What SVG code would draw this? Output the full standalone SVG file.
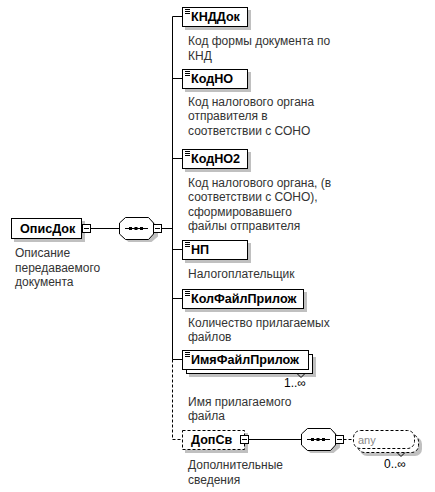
<svg xmlns="http://www.w3.org/2000/svg" width="435" height="492" viewBox="0 0 435 492">
<defs>
<style>
.box{fill:#fff;stroke:#000;stroke-width:1}
.dbox{fill:#fff;stroke:#000;stroke-width:1;stroke-dasharray:3,2}
.sh{fill:#c0c0c0;stroke:none}
.name{font-family:"Liberation Sans",Arial,sans-serif;font-size:12.6px;font-weight:bold;fill:#000}
.desc{font-family:"Liberation Sans",Arial,sans-serif;font-size:12px;fill:#333}
.occ{font-family:"Liberation Sans",Arial,sans-serif;font-size:12px;fill:#000}
.any{font-family:"Liberation Sans",Arial,sans-serif;font-size:11px;fill:#888}
.ln{stroke:#000;stroke-width:1;fill:none}
.dln{stroke:#000;stroke-width:1;fill:none;stroke-dasharray:3,2}
</style>
<g id="icon"><path class="ln" d="M185,242.5h5M185,244.5h5M185,246.5h5"/></g>
<g id="minus"><rect class="box" x="0.5" y="0.5" width="8" height="8"/><path class="ln" d="M2,4.5h5"/></g>
<g id="oct">
<path class="sh" d="M9.5,3H32.5L39,9.5V19.5L32.5,25H9.5L3,19.5V9.5Z"/>
<path class="box" d="M6.5,0.5H29.5L34.5,6V17L29.5,22.5H6.5L0.5,17V6Z"/>
<path class="ln" d="M6,11.5H29"/>
<rect x="10" y="10" width="3" height="3" fill="#000"/>
<rect x="15.5" y="10" width="3" height="3" fill="#000"/>
<rect x="21" y="10" width="3" height="3" fill="#000"/>
</g>
</defs>

<g id="connectors">
<path class="ln" d="M90.5,228.5H120"/>
<path class="ln" d="M161.5,228.5H172.5"/>
<path class="ln" d="M172.5,16.5V359.5"/>
<path class="dln" d="M172.5,359.5V439.5H182"/>
<path class="ln" d="M172.5,16.5H182M172.5,78.5H182M172.5,158.5H182M172.5,249.5H182M172.5,298.5H182M172.5,359.5H182"/>
<path class="ln" d="M248.5,439.5H301"/>
<path class="dln" d="M343.5,439.5H353"/>
</g>

<g id="ОписДок">
<rect class="sh" x="14" y="221" width="71" height="21"/>
<rect class="box" x="11.5" y="218.5" width="70" height="20"/>
<text class="name" x="20" y="233">ОписДок</text>
<use href="#minus" x="82" y="224"/>
<text class="desc"><tspan x="15" y="257">Описание</tspan><tspan x="15" y="271.5">передаваемого</tspan><tspan x="15" y="286">документа</tspan></text>
</g>

<g id="seq1"><use href="#oct" x="119" y="217"/><use href="#minus" x="153" y="224"/></g>

<g id="КНДДок">
<rect class="sh" x="185" y="10" width="66" height="20"/>
<rect class="box" x="182.5" y="7.5" width="65" height="19"/>
<use href="#icon" y="-233"/>
<text class="name" x="191" y="21">КНДДок</text>
<text class="desc"><tspan x="188" y="45">Код формы документа по</tspan><tspan x="188" y="59.5">КНД</tspan></text>
</g>

<g id="КодНО">
<rect class="sh" x="185" y="72" width="66" height="20"/>
<rect class="box" x="182.5" y="69.5" width="65" height="19"/>
<use href="#icon" y="-171"/>
<text class="name" x="191" y="83">КодНО</text>
<text class="desc"><tspan x="188" y="105.5">Код налогового органа</tspan><tspan x="188" y="120">отправителя в</tspan><tspan x="188" y="134.5">соответствии с СОНО</tspan></text>
</g>

<g id="КодНО2">
<rect class="sh" x="185" y="152" width="66" height="20"/>
<rect class="box" x="182.5" y="149.5" width="65" height="19"/>
<use href="#icon" y="-91"/>
<text class="name" x="191" y="163">КодНО2</text>
<text class="desc"><tspan x="188" y="186.5">Код налогового органа, (в</tspan><tspan x="188" y="201">соответствии с СОНО),</tspan><tspan x="188" y="215.5">сформировавшего</tspan><tspan x="188" y="230">файлы отправителя</tspan></text>
</g>

<g id="НП">
<rect class="sh" x="185" y="243" width="66" height="20"/>
<rect class="box" x="182.5" y="240.5" width="65" height="19"/>
<use href="#icon" y="0"/>
<text class="name" x="191" y="254">НП</text>
<text class="desc"><tspan x="188" y="278">Налогоплательщик</tspan></text>
</g>

<g id="КолФайлПрилож">
<rect class="sh" x="185" y="292" width="122" height="20"/>
<rect class="box" x="182.5" y="289.5" width="121" height="19"/>
<use href="#icon" y="49"/>
<text class="name" x="191" y="303">КолФайлПрилож</text>
<text class="desc"><tspan x="188" y="326.5">Количество прилагаемых</tspan><tspan x="188" y="341">файлов</tspan></text>
</g>

<g id="ИмяФайлПрилож">
<rect class="sh" x="189" y="357" width="127" height="20"/>
<rect class="box" x="186.5" y="354.5" width="126" height="19"/>
<rect class="box" x="182.5" y="350.5" width="126" height="19"/>
<use href="#icon" y="110"/>
<text class="name" x="191" y="364">ИмяФайлПрилож</text>
<polyline class="ln" points="297,373.5 301,377.5 305,373.5"/>
<text class="occ" x="284" y="387">1..∞</text>
<text class="desc"><tspan x="188" y="405.5">Имя прилагаемого</tspan><tspan x="188" y="420">файла</tspan></text>
</g>

<g id="ДопСв">
<rect class="sh" x="185" y="433" width="63" height="20"/>
<rect class="dbox" x="182.5" y="430.5" width="62" height="19"/>
<text class="name" x="191" y="444">ДопСв</text>
<use href="#minus" x="240" y="435"/>
<text class="desc"><tspan x="188" y="469">Дополнительные</tspan><tspan x="188" y="483.5">сведения</tspan></text>
</g>

<g id="seq2"><use href="#oct" x="301" y="428"/><use href="#minus" x="335" y="435"/></g>

<g id="any">
<rect class="sh" x="360" y="437" width="62" height="19" rx="7"/>
<rect class="dbox" x="357.5" y="434.5" width="61" height="18" rx="7"/>
<rect class="dbox" x="353.5" y="430.5" width="61" height="18" rx="7"/>
<text class="any" x="358" y="444">any</text>
<polyline class="ln" points="397,452.5 401,456.5 405,452.5"/>
<text class="occ" x="384" y="468">0..∞</text>
</g>
</svg>
